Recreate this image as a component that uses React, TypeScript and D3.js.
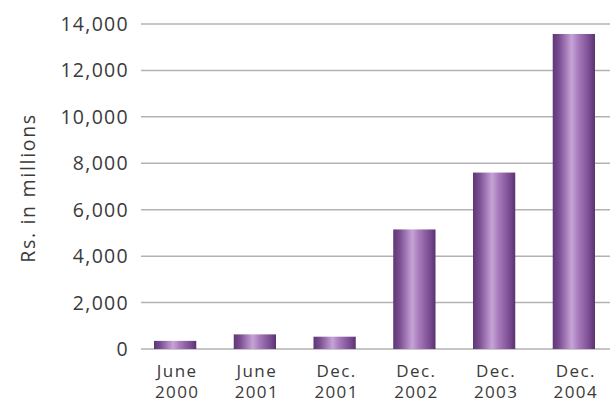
import React from "react";
import * as d3 from "d3";

const categories = ["June 2000", "June 2001", "Dec. 2001", "Dec. 2002", "Dec. 2003", "Dec. 2004"];
const values = [350, 630, 530, 5150, 7600, 13570];
const yTicks = [0, 2000, 4000, 6000, 8000, 10000, 12000, 14000];
const yLabel = "Rs. in millions";

const W = 615;
const H = 404;
const FONT = "'Open Sans', 'DejaVu Sans', sans-serif";

export default function App() {
  const y = d3.scaleLinear().domain([0, 14000]).range([349, 24]);
  const x = d3.scaleBand<string>().domain(categories).range([154, 595]).paddingInner(0.47).paddingOuter(0);
  const fmt = d3.format(",");
  return (
    <svg width={W} height={H} style={{ position: "absolute", left: 0, top: 0, background: "#fff" }}>
      <defs>
        <linearGradient id="barGrad" x1="0" x2="1" y1="0" y2="0">
          <stop offset="0" stopColor="#5e3675" />
          <stop offset="0.15" stopColor="#7a4d92" />
          <stop offset="0.45" stopColor="#c7a3d7" />
          <stop offset="0.6" stopColor="#a77cbc" />
          <stop offset="0.88" stopColor="#77498f" />
          <stop offset="1" stopColor="#5a3270" />
        </linearGradient>
      </defs>
      {yTicks.map((t) => (
        <g key={t}>
          <line x1={141} x2={610} y1={y(t)} y2={y(t)} stroke="#b3b3b3" strokeWidth={1.5} />
          <text x={129} y={y(t)} dy="0.36em" textAnchor="end" fontFamily={FONT} fontSize={19.5} fill="#3a3a3a" letterSpacing={1.3}>
            {fmt(t)}
          </text>
        </g>
      ))}
      {categories.map((c, i) => (
        <rect key={c} x={x(c)} y={y(values[i])} width={x.bandwidth()} height={y(0) - y(values[i])} fill="url(#barGrad)" />
      ))}
      {categories.map((c) => {
        const [a, b] = c.split(" ");
        const cx = (x(c) as number) + x.bandwidth() / 2 + 2;
        return (
          <g key={c}>
            <text x={cx} y={377} textAnchor="middle" fontFamily={FONT} fontSize={17} fill="#3a3a3a" letterSpacing={1.4}>{a}</text>
            <text x={cx} y={398} textAnchor="middle" fontFamily={FONT} fontSize={17} fill="#3a3a3a" letterSpacing={1.4}>{b}</text>
          </g>
        );
      })}
      <text transform="translate(35,188) rotate(-90)" textAnchor="middle" fontFamily={FONT} fontSize={19.5} fill="#3a3a3a" letterSpacing={1.7}>
        {yLabel}
      </text>
    </svg>
  );
}
